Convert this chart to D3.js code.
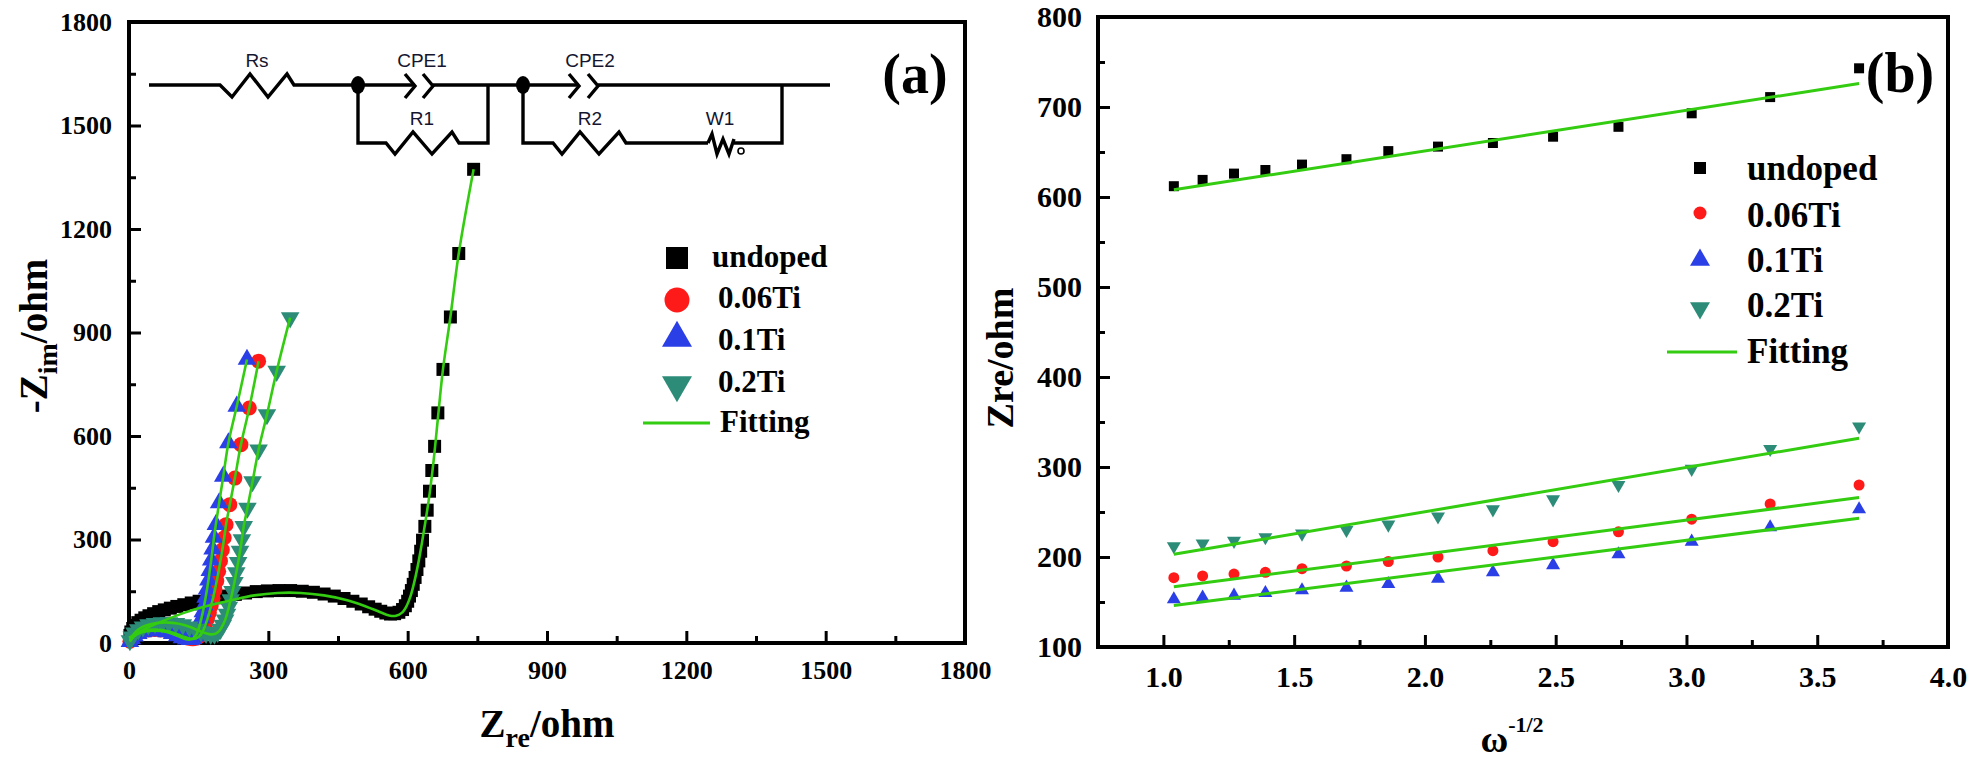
<!DOCTYPE html>
<html>
<head>
<meta charset="utf-8">
<script src="https://cdn.jsdelivr.net/npm/d3@7"></script>
<style>
  body { margin: 0; background: #fff; }
  svg text { font-family: "Liberation Serif", "Times New Roman", serif; font-weight: bold; }
  .circ text { font-family: "Liberation Sans", Arial, sans-serif; font-weight: normal; }
</style>
</head>
<body>
<div id="wrapper"></div>
<script>
// ---- data (a): Nyquist plot, [Z_re, -Z_im] in ohm ----
const nyqUndoped = [[2,22],[4,32],[8,42],[13,51],[19,59],[26,66],[34,73],[43,79],[53,85],[64,91],[76,96],[89,101],[103,106],[118,111],[134,116],[151,121],[169,126],[188,131],[208,136],[229,141],[251,145],[274,149],[298,151],[323,152],[348,152],[373,150],[397,147],[420,142],[442,136],[463,129],[482,121],[500,113],[516,105],[530,98],[542,92],[553,87],[563,84],[572,85],[581,89],[589,97],[595,108],[600,121],[604,136],[608,152],[612,170],[616,190],[620,213],[624,238],[628,266],[632,298],[637,338],[642,385],[647,440],[652,500],[658,570],[665,667],[676,793],[692,945],[710,1129],[742,1373]];
const nyqUndopedFit = [[0,15],[30,38],[70,62],[120,88],[170,108],[220,124],[270,138],[320,145],[370,145],[420,138],[470,124],[510,106],[540,90],[560,80],[575,79],[588,88],[598,108],[606,135],[614,175],[622,225],[630,285],[638,350],[647,430],[656,530],[665,650],[676,793],[692,945],[710,1129],[742,1373]];
const nyq006 = [[2,5],[6,14],[12,23],[20,30],[30,35],[42,38],[55,39],[68,38],[82,35],[95,30],[107,24],[118,18],[128,14],[137,12],[145,14],[152,20],[157,29],[161,40],[165,54],[169,70],[173,88],[177,108],[181,130],[185,154],[189,180],[193,208],[197,238],[201,270],[205,305],[209,343],[217,401],[228,478],[241,575],[259,681],[279,817]];
const nyq01 = [[2,4],[6,12],[12,20],[20,27],[30,32],[42,35],[55,36],[68,35],[81,32],[93,27],[104,21],[114,15],[123,11],[131,10],[138,13],[143,20],[147,30],[150,42],[153,56],[156,72],[159,90],[162,110],[165,132],[168,156],[171,182],[174,210],[177,240],[180,272],[183,306],[187,343],[194,406],[203,483],[214,580],[232,686],[254,822]];
const nyq02 = [[2,7],[6,18],[12,29],[20,39],[30,47],[42,53],[56,57],[71,59],[86,59],[101,57],[116,53],[130,47],[143,40],[155,33],[166,28],[176,25],[184,26],[191,31],[197,40],[202,52],[207,67],[211,84],[215,104],[219,126],[223,150],[227,176],[231,204],[235,234],[239,266],[243,300],[247,338],[255,391],[266,468],[279,560],[297,662],[318,788],[347,943]];
const nyqTicks = [0, 300, 600, 900, 1200, 1500, 1800];
const nyqMinor = [150, 450, 750, 1050, 1350, 1650];

// ---- data (b): Zre vs omega^-1/2 ----
const omega = [1.04, 1.15, 1.27, 1.39, 1.53, 1.70, 1.86, 2.05, 2.26, 2.49, 2.74, 3.02, 3.32, 3.66];
const zreUndoped = [612, 619, 626, 630, 636, 642, 651, 656, 660, 667, 678, 693, 711, 743];
const zre006 = [177, 179, 181, 183, 187, 190, 195, 200, 207, 217, 228, 242, 259, 280];
const zre01 = [153, 155, 157, 160, 163, 166, 170, 176, 183, 191, 203, 217, 233, 253];
const zre02 = [212, 215, 218, 222, 226, 230, 236, 245, 253, 264, 280, 298, 320, 345];
const fitUndoped = [[1.04, 608], [3.66, 726]];
const fit006 = [[1.04, 167], [3.66, 266]];
const fit01 = [[1.04, 146], [3.66, 243]];
const fit02 = [[1.04, 203], [3.66, 332]];
const zreTicks = [100, 200, 300, 400, 500, 600, 700, 800];
const zreMinor = [150, 250, 350, 450, 550, 650, 750];
const omegaTicks = [1.0, 1.5, 2.0, 2.5, 3.0, 3.5, 4.0];
const omegaMinor = [1.25, 1.75, 2.25, 2.75, 3.25, 3.75];

const seriesNames = ["undoped", "0.06Ti", "0.1Ti", "0.2Ti"];
const colors = ["#000000", "#ff1a1a", "#2b3fe6", "#2d8c78"];
const fitColor = "#33cc11";

const svg = d3.select("#wrapper").append("svg")
    .attr("width", 1970)
    .attr("height", 759);

function shape(i) {
    return [d3.symbolSquare, d3.symbolCircle, d3.symbolTriangle, d3.symbolTriangle][i];
}
function marker(g, i, x, y, sizes) {
    g.append("path")
        .attr("d", d3.symbol().type(shape(i)).size(sizes[i])())
        .attr("transform", `translate(${x},${y})` + (i == 3 ? " rotate(180)" : ""))
        .attr("fill", colors[i]);
}

function axes(x, y, xt, xm, yt, ym, fmtX, fmtY, fs, padX, padY) {
    const g = svg.append("g");
    const [x0, x1] = x.range(), [y0, y1] = y.range();
    g.append("g").attr("transform", `translate(0,${y0})`)
        .call(d3.axisBottom(x).tickValues(xt).tickSize(-12).tickPadding(padX).tickFormat(fmtX));
    g.append("g").attr("transform", `translate(0,${y0})`)
        .call(d3.axisBottom(x).tickValues(xm).tickSize(-7).tickFormat(""));
    g.append("g").attr("transform", `translate(${x0},0)`)
        .call(d3.axisLeft(y).tickValues(yt).tickSize(-12).tickPadding(padY).tickFormat(fmtY));
    g.append("g").attr("transform", `translate(${x0},0)`)
        .call(d3.axisLeft(y).tickValues(ym).tickSize(-7).tickFormat(""));
    g.selectAll(".domain").remove();
    g.selectAll(".tick line").attr("stroke", "#000").attr("stroke-width", 3);
    g.selectAll(".tick text").attr("font-size", fs).attr("fill", "#000")
        .attr("font-family", "Liberation Serif").attr("font-weight", "bold");
    g.append("rect").attr("x", x0).attr("y", y1).attr("width", x1 - x0).attr("height", y0 - y1)
        .attr("fill", "none").attr("stroke", "#000").attr("stroke-width", 4);
}

// ================= panel (a) =================
const xA = d3.scaleLinear().domain([0, 1800]).range([129, 965]);
const yA = d3.scaleLinear().domain([0, 1800]).range([643, 22]);

// equivalent circuit
const circ = svg.append("g").attr("class", "circ")
    .attr("fill", "none").attr("stroke", "#000").attr("stroke-width", 3.4)
    .attr("stroke-linejoin", "miter");
const wires = [
    "M149,85 L220,85 L232,97 L250,74 L268,97 L287,74 L294,85 L358,85 L415,85",
    "M405,74 L415,86 L405,98", "M423,74 L433,86 L423,98",
    "M433,85 L523,85 L579,85",
    "M569,74 L579,86 L569,98", "M588,74 L598,86 L588,98",
    "M598,85 L830,85",
    "M358,85 L358,143 L386,143 L395,154 L413,132 L432,154 L452,132 L459,143 L488,143 L488,85",
    "M523,85 L523,143 L553,143 L562,154 L580,132 L599,154 L619,132 L626,143 L708,143",
    "M708,143 L712,134 L717,154 L723,139 L729,154 L734,139",
    "M734,143 L782,143 L782,85"
];
circ.selectAll("path.w").data(wires).enter().append("path").attr("class", "w").attr("d", d => d);
circ.append("circle").attr("cx", 741).attr("cy", 151).attr("r", 3).attr("stroke-width", 1.6);
circ.selectAll("ellipse").data([358, 523]).enter().append("ellipse")
    .attr("cx", d => d).attr("cy", 85).attr("rx", 7).attr("ry", 9).attr("fill", "#000").attr("stroke", "none");
const circLabels = [["Rs", 257, 67], ["CPE1", 422, 67], ["CPE2", 590, 67], ["R1", 422, 125], ["R2", 590, 125], ["W1", 720, 125]];
circ.selectAll("text").data(circLabels).enter().append("text")
    .attr("x", d => d[1]).attr("y", d => d[2]).attr("text-anchor", "middle")
    .attr("font-size", 19).attr("fill", "#151530").attr("stroke", "none").text(d => d[0]);

axes(xA, yA, nyqTicks, nyqMinor, nyqTicks, nyqMinor, d3.format("d"), d3.format("d"), 26, 18, 17);

const nyqSets = [nyqUndoped, nyq006, nyq01, nyq02];
const sizesA = [169, 177, 150, 150];
const plotA = svg.append("g");
nyqSets.forEach((set, i) => {
    set.forEach(p => marker(plotA, i, xA(p[0]), yA(p[1]), sizesA));
});
const lineA = d3.line().x(d => xA(d[0])).y(d => yA(d[1])).curve(d3.curveCatmullRom);
[nyqUndopedFit, nyq006, nyq01, nyq02].forEach(set => {
    plotA.append("path").attr("d", lineA(set)).attr("fill", "none")
        .attr("stroke", fitColor).attr("stroke-width", 2.6);
});

// legend (a)
const legA = svg.append("g");
const legAY = [258, 300, 338, 385];
const legATxt = [[712, 267], [718, 308], [718, 350], [718, 392]];
const sizesLegA = [484, 491, 390, 390];
seriesNames.forEach((n, i) => {
    marker(legA, i, 677, legAY[i], sizesLegA);
    legA.append("text").attr("x", legATxt[i][0]).attr("y", legATxt[i][1]).attr("font-size", 31).text(n);
});
legA.append("line").attr("x1", 643).attr("x2", 710).attr("y1", 423).attr("y2", 423)
    .attr("stroke", fitColor).attr("stroke-width", 3);
legA.append("text").attr("x", 720).attr("y", 432).attr("font-size", 31).text("Fitting");

svg.append("text").attr("x", 915).attr("y", 93).attr("text-anchor", "middle").attr("font-size", 56).text("(a)");

const tA = svg.append("text").attr("x", 547).attr("y", 737).attr("text-anchor", "middle").attr("font-size", 39);
tA.append("tspan").text("Z");
tA.append("tspan").attr("font-size", 28).attr("dy", 10).text("re");
tA.append("tspan").attr("dy", -10).text("/ohm");

const tAy = svg.append("text").attr("transform", "translate(47,336) rotate(-90)")
    .attr("text-anchor", "middle").attr("font-size", 39);
tAy.append("tspan").text("-Z");
tAy.append("tspan").attr("font-size", 28).attr("dy", 10).text("im");
tAy.append("tspan").attr("dy", -10).text("/ohm");

// ================= panel (b) =================
const xB = d3.scaleLinear().domain([0.75, 4.0]).range([1098, 1948]);
const yB = d3.scaleLinear().domain([100, 800]).range([647, 17]);

axes(xB, yB, omegaTicks, omegaMinor, zreTicks, zreMinor, d3.format(".1f"), d3.format("d"), 30, 19, 16);

const zreSets = [zreUndoped, zre006, zre01, zre02];
const fitSets = [fitUndoped, fit006, fit01, fit02];
const sizesB = [100, 95, 85, 85];
const plotB = svg.append("g");
zreSets.forEach((set, i) => {
    set.forEach((v, j) => marker(plotB, i, xB(omega[j]), yB(v), sizesB));
});
const lineB = d3.line().x(d => xB(d[0])).y(d => yB(d[1]));
fitSets.forEach(set => {
    plotB.append("path").attr("d", lineB(set)).attr("fill", "none")
        .attr("stroke", fitColor).attr("stroke-width", 3);
});

const legB = svg.append("g");
const legBY = [168, 213, 260, 308];
const legBBase = [180, 227, 272, 317];
const sizesLegB = [144, 133, 173, 173];
seriesNames.forEach((n, i) => {
    marker(legB, i, 1700, legBY[i], sizesLegB);
    legB.append("text").attr("x", 1747).attr("y", legBBase[i]).attr("font-size", 35).text(n);
});
legB.append("line").attr("x1", 1667).attr("x2", 1737).attr("y1", 352).attr("y2", 352)
    .attr("stroke", fitColor).attr("stroke-width", 3);
legB.append("text").attr("x", 1747).attr("y", 363).attr("font-size", 35).text("Fitting");

svg.append("text").attr("x", 1900).attr("y", 92).attr("text-anchor", "middle").attr("font-size", 56).text("(b)");

svg.append("text").attr("transform", "translate(1013,358) rotate(-90)")
    .attr("text-anchor", "middle").attr("font-size", 38).text("Zre/ohm");

const tB = svg.append("text").attr("x", 1512).attr("y", 752).attr("text-anchor", "middle").attr("font-size", 38);
tB.append("tspan").text("ω");
tB.append("tspan").attr("font-size", 22).attr("dy", -20).text("-1/2");
</script>
</body>
</html>
